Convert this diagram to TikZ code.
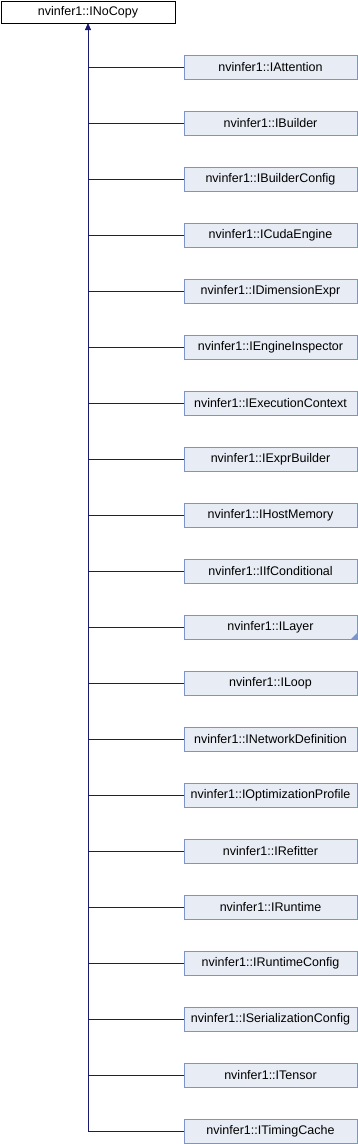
\documentclass[tikz,border=0pt]{standalone}
\usepackage{fontspec}
\setmainfont{Liberation Sans}
\usetikzlibrary{positioning,arrows.meta}
\definecolor{edgeblue}{RGB}{25,25,112}
\definecolor{boxfill}{RGB}{232,236,244}
\definecolor{boxline}{RGB}{124,148,203}

\tikzset{
  rootbox/.style={draw=black,fill=white,line width=0.8pt,minimum width=174pt,minimum height=22pt,inner sep=0pt,outer sep=0pt},
  classbox/.style={draw=boxline,fill=boxfill,line width=0.8pt,minimum width=173pt,minimum height=24pt,inner sep=0pt,outer sep=0pt},
  inherit/.style={draw=edgeblue,line width=0.8pt}
}

\begin{document}
\begin{tikzpicture}[x=1pt,y=-1pt,font=\fontsize{12.5}{15}\selectfont]
  \useasboundingbox (0,0) rectangle (358,1144);
  \node[rootbox] (root) at (88,12) {nvinfer1::INoCopy};
  \foreach \name [count=\i] in {IAttention,IBuilder,IBuilderConfig,ICudaEngine,IDimensionExpr,IEngineInspector,IExecutionContext,IExprBuilder,IHostMemory,IIfConditional,ILayer,ILoop,INetworkDefinition,IOptimizationProfile,IRefitter,IRuntime,IRuntimeConfig,ISerializationConfig,ITensor,ITimingCache}
    \node[classbox] (c\i) at (270.5,{67+56*(\i-1)}) {nvinfer1::\name};
  % ILayer has more subclasses
  \fill[boxline] (c11.south east) -- ([xshift=-6pt]c11.south east) -- ([yshift=6pt]c11.south east) -- cycle;
  % inheritance edges
  \draw[inherit,{Triangle[width=6pt,length=7pt]}-] (root.south) -- (root.south |- c20.west);
  \foreach \i in {1,...,20}
    \draw[inherit] (root.south |- c\i.west) -- (c\i.west);
\end{tikzpicture}
\end{document}
